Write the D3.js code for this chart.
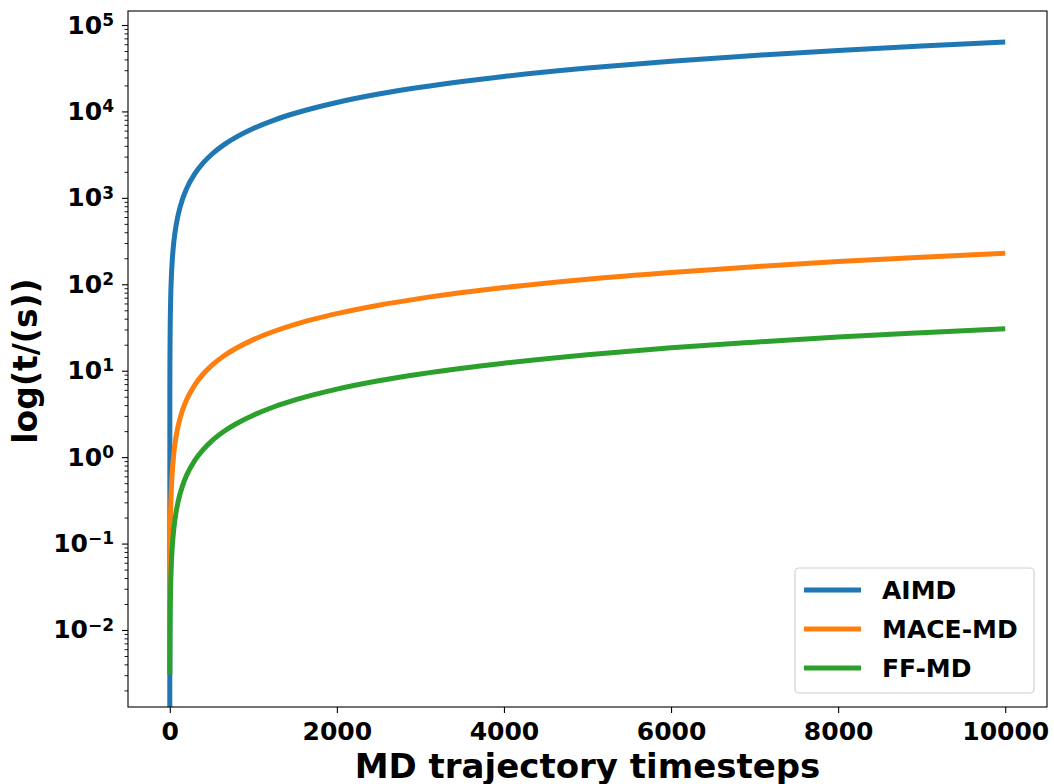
<!DOCTYPE html>
<html>
<head>
<meta charset="utf-8">
<script src="https://cdn.jsdelivr.net/npm/d3@7"></script>
<style>
  body { margin: 0; background: #fff; }
  svg { display: block; font-family: "DejaVu Sans", sans-serif; font-weight: bold; }
</style>
</head>
<body>
<svg width="1054" height="784"></svg>
<script>
// data
const steps = [0, 1, 2, 5, 10, 20, 30, 50, 75, 100, 150, 200, 300, 400, 500, 650, 800, 1000, 1250, 1500, 1750, 2000, 2500, 3000, 3500, 4000, 5000, 6000, 7000, 8000, 9000, 10000];
const aimd = [0.0001, 6.35, 12.7, 31.8, 63.5, 127, 191, 318, 476, 635, 953, 1270, 1905, 2540, 3175, 4130, 5080, 6350, 7940, 9525, 11110, 12700, 15880, 19050, 22230, 25400, 31750, 38100, 44450, 50800, 57150, 63500];
const maceMd = [null, 0.0229, 0.0458, 0.1145, 0.229, 0.458, 0.687, 1.145, 1.72, 2.29, 3.44, 4.58, 6.87, 9.16, 11.45, 14.9, 18.3, 22.9, 28.6, 34.4, 40.1, 45.8, 57.3, 68.7, 80.2, 91.6, 114.5, 137, 160, 183, 206, 229];
const ffMd = [null, 0.00306, 0.00612, 0.0153, 0.0306, 0.0612, 0.0918, 0.153, 0.23, 0.306, 0.459, 0.612, 0.918, 1.22, 1.53, 1.99, 2.45, 3.06, 3.83, 4.59, 5.36, 6.12, 7.65, 9.18, 10.7, 12.2, 15.3, 18.4, 21.4, 24.5, 27.5, 30.6];
const seriesNames = ['AIMD', 'MACE-MD', 'FF-MD'];
const seriesColors = ['#1f77b4', '#ff7f0e', '#2ca02c'];
const xTicks = [0, 2000, 4000, 6000, 8000, 10000];
const yExps = [-2, -1, 0, 1, 2, 3, 4, 5];

const L = 128, T = 11, R = 1047, B = 707;
const svg = d3.select('svg');

const x = d3.scaleLinear().domain([-500, 10500]).range([L, R]);
const y = d3.scaleLog().domain([Math.pow(10, -2.891), Math.pow(10, 5.162)]).range([B, T]);

svg.append('defs').append('clipPath').attr('id', 'plot')
    .append('rect').attr('x', L).attr('y', T).attr('width', R - L).attr('height', B - T);

// curves
const allValues = [aimd, maceMd, ffMd];
const line = d3.line()
    .defined(d => d[1] != null)
    .curve(d3.curveMonotoneX)
    .x(d => x(d[0]))
    .y(d => y(d[1]));

allValues.forEach(function (vals, i) {
    svg.append('path')
        .attr('d', line(steps.map((s, j) => [s, vals[j]])))
        .attr('fill', 'none')
        .attr('stroke', seriesColors[i])
        .attr('stroke-width', 5)
        .attr('clip-path', 'url(#plot)');
});

// x axis
const xAxis = svg.append('g')
    .attr('transform', `translate(0,${B})`)
    .call(d3.axisBottom(x).tickValues(xTicks).tickSize(6).tickFormat(d3.format('d')));
xAxis.select('.domain').remove();
xAxis.selectAll('line').attr('stroke', '#000').attr('stroke-width', 1.1);
xAxis.selectAll('text')
    .attr('y', 33).attr('dy', 0)
    .attr('fill', '#000')
    .style('font-size', '25px').style('font-family', 'DejaVu Sans').style('font-weight', 'bold');

// y axis, minor ticks
let minor = [];
for (let e = -3; e <= 5; e++) {
    for (let m = 2; m <= 9; m++) {
        let v = m * Math.pow(10, e);
        if (v >= y.domain()[0] && v <= y.domain()[1]) minor.push(v);
    }
}
const yMinor = svg.append('g')
    .attr('transform', `translate(${L},0)`)
    .call(d3.axisLeft(y).tickValues(minor).tickSize(3.5).tickFormat(''));
yMinor.select('.domain').remove();
yMinor.selectAll('line').attr('stroke', '#000').attr('stroke-width', 0.9);

// y axis, major ticks
const yMajor = svg.append('g')
    .attr('transform', `translate(${L},0)`)
    .call(d3.axisLeft(y).tickValues(yExps.map(e => Math.pow(10, e))).tickSize(6).tickFormat(''));
yMajor.select('.domain').remove();
yMajor.selectAll('line').attr('stroke', '#000').attr('stroke-width', 1.1);

yExps.forEach(function (e) {
    const t = svg.append('text')
        .attr('x', L - 14)
        .attr('y', y(Math.pow(10, e)) + 8.5)
        .attr('text-anchor', 'end')
        .attr('fill', '#000');
    t.append('tspan').style('font-size', '25px').text('10');
    t.append('tspan').style('font-size', '17px').attr('dy', -7.8)
        .text(e < 0 ? '\u2212' + (-e) : String(e));
});

// spines
svg.append('rect')
    .attr('x', L).attr('y', T).attr('width', R - L).attr('height', B - T)
    .attr('fill', 'none').attr('stroke', '#000').attr('stroke-width', 1.1);

// axis labels (the reference cuts the descenders at the bottom edge too)
svg.append('text')
    .attr('x', (L + R) / 2).attr('y', 778)
    .attr('text-anchor', 'middle')
    .style('font-size', '34px')
    .text('MD trajectory timesteps');

svg.append('text')
    .attr('transform', 'translate(37,361) rotate(-90)')
    .attr('text-anchor', 'middle')
    .style('font-size', '33px')
    .text('log(t/(s))');

// legend
const legend = svg.append('g');
legend.append('rect')
    .attr('x', 795).attr('y', 568).attr('width', 239).attr('height', 125)
    .attr('rx', 4)
    .attr('fill', '#fff').attr('fill-opacity', 0.8)
    .attr('stroke', '#d0d0d0').attr('stroke-width', 1.2);

seriesNames.forEach(function (name, i) {
    const ly = 590 + i * 39;
    legend.append('line')
        .attr('x1', 804).attr('x2', 861).attr('y1', ly).attr('y2', ly)
        .attr('stroke', seriesColors[i]).attr('stroke-width', 5);
    legend.append('text')
        .attr('x', 882).attr('y', ly + 9)
        .style('font-size', '25px')
        .text(name);
});
</script>
</body>
</html>
